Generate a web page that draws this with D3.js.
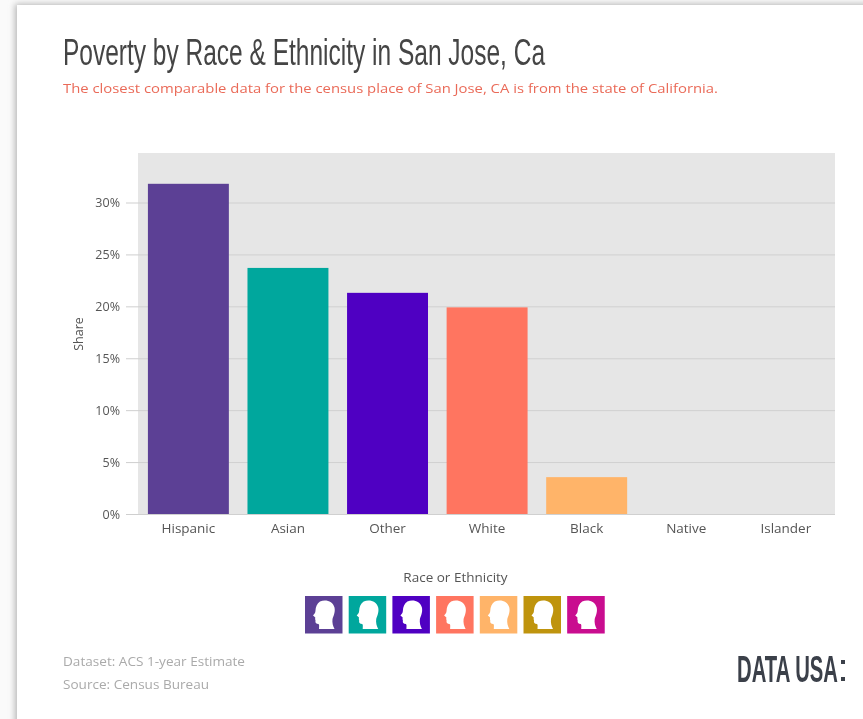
<!DOCTYPE html>
<html><head><meta charset="utf-8">
<script src="https://cdn.jsdelivr.net/npm/d3@7/dist/d3.min.js"></script>
<style>html,body{margin:0;padding:0;background:#fff;overflow:hidden}svg{display:block}text{font-family:"Open Sans",Lato,sans-serif}</style>
</head><body><svg id="c" width="863" height="719"></svg>
<script>
const categories=["Hispanic","Asian","Other","White","Black","Native","Islander"];
const shares=[31.8,23.7,21.3,19.9,3.55,0,0];
const colors=["#5b4195","#00a79d","#4f00c2","#ff7560","#ffb469","#bf9410","#c9088f"];
const yTicks=[0,5,10,15,20,25,30];
const svg=d3.select("#c");
const defs=svg.append("defs");
const blur=defs.append("filter").attr("id","sh").attr("x","-5%").attr("y","-5%").attr("width","110%").attr("height","110%");
blur.append("feGaussianBlur").attr("stdDeviation",3);
const soft=defs.append("filter").attr("id","soft");
soft.append("feGaussianBlur").attr("stdDeviation",0.55);
svg.append("rect").attr("width",863).attr("height",719).attr("fill","#fafafa");
svg.append("rect").attr("x",15).attr("y",4).attr("width",900).attr("height",760).attr("fill","#b5b5b5").attr("filter","url(#sh)");
svg.append("rect").attr("x",17).attr("y",5).attr("width",900).attr("height",760).attr("fill","#fff");
const g=svg.append("g").attr("filter","url(#soft)");
const x=d3.scaleBand().domain(categories).range([138.6,835.6]).paddingInner(0.187).paddingOuter(0.0935);
const y=d3.scaleLinear().domain([0,30]).range([514,202.5]);
g.append("text").attr("x",63).attr("y",65).attr("font-size",36).attr("fill","#444")
 .attr("textLength",482).attr("lengthAdjust","spacingAndGlyphs")
 .style("font-family","'Liberation Sans Narrow','Liberation Sans',sans-serif")
 .text("Poverty by Race & Ethnicity in San Jose, Ca");
g.append("text").attr("x",63).attr("y",93).attr("font-size",13.5).attr("fill","#ea6a58")
 .attr("textLength",655).attr("lengthAdjust","spacingAndGlyphs")
 .text("The closest comparable data for the census place of San Jose, CA is from the state of California.");
g.append("rect").attr("x",138).attr("y",153).attr("width",697).attr("height",361).attr("fill","#e6e6e6");
const yAxis=g.append("g").attr("transform","translate(138,0)").call(d3.axisLeft(y).tickValues(yTicks).tickFormat(d=>d+"%").tickSize(12).tickPadding(6));
yAxis.select(".domain").remove();
yAxis.selectAll("line").attr("stroke","#cfcfcf");
yAxis.selectAll("text").attr("font-size",12.5).attr("fill","#555");
g.append("g").selectAll("line").data(yTicks).join("line").attr("x1",138).attr("x2",835)
 .attr("y1",d=>y(d)+.5).attr("y2",d=>y(d)+.5).attr("stroke","#d0d0d0");
g.append("g").selectAll("rect").data(categories).join("rect")
 .attr("x",d=>x(d)).attr("width",x.bandwidth())
 .attr("y",(d,i)=>y(shares[i])).attr("height",(d,i)=>y(0)-y(shares[i]))
 .attr("fill",(d,i)=>colors[i]);
const xAxis=g.append("g").attr("transform","translate(0,514)").call(d3.axisBottom(x).tickSize(0).tickPadding(9));
xAxis.select(".domain").remove();
xAxis.selectAll("text").attr("font-size",13.5).attr("fill","#555");
g.append("text").attr("transform","translate(83,334) rotate(-90)").attr("text-anchor","middle").attr("font-size",12.5).attr("fill","#555").text("Share");
g.append("text").attr("x",455.5).attr("y",582).attr("text-anchor","middle").attr("font-size",13.5).attr("fill","#555").text("Race or Ethnicity");
const head="M15 5.5C21 3 28 5.5 29.5 11.5C30.5 16 28.5 20 27.5 23C27 27 28 30 29.5 33L14 33C14 30.5 14.5 28.5 13.5 28C11 28 10 26.5 10.5 24.5C10 23.5 10 22.5 10.3 21.5C9.5 21 9 20 8 19.5C9 18 10.5 17 10.5 14.5C10.5 11 12 7.5 15 5.5Z";
const lx=d3.scalePoint().domain(categories).range([305,567.2]);
const items=g.append("g").selectAll("g").data(categories).join("g").attr("transform",d=>`translate(${lx(d)},596)`);
items.append("rect").attr("width",37.5).attr("height",37.5).attr("fill",(d,i)=>colors[i]);
items.append("path").attr("d",head).attr("fill","#fff");
g.append("text").attr("x",63).attr("y",666).attr("font-size",13).attr("fill","#aaa").attr("textLength",182).attr("lengthAdjust","spacingAndGlyphs").text("Dataset: ACS 1-year Estimate");
g.append("text").attr("x",63).attr("y",689).attr("font-size",13).attr("fill","#aaa").attr("textLength",146).attr("lengthAdjust","spacingAndGlyphs").text("Source: Census Bureau");
const logo=g.append("text").attr("font-size",37).attr("font-weight",700).attr("fill","#3a3f4a")
 .style("font-family","'Liberation Sans Narrow','Liberation Sans',sans-serif").text("DATA USA");
logo.attr("transform",`translate(737,682) scale(${101/logo.node().getComputedTextLength()},1)`);
g.append("g").selectAll("rect").data([660,677]).join("rect").attr("x",841).attr("y",d=>d).attr("width",4).attr("height",4).attr("fill","#3a3f4a");
</script></body></html>
